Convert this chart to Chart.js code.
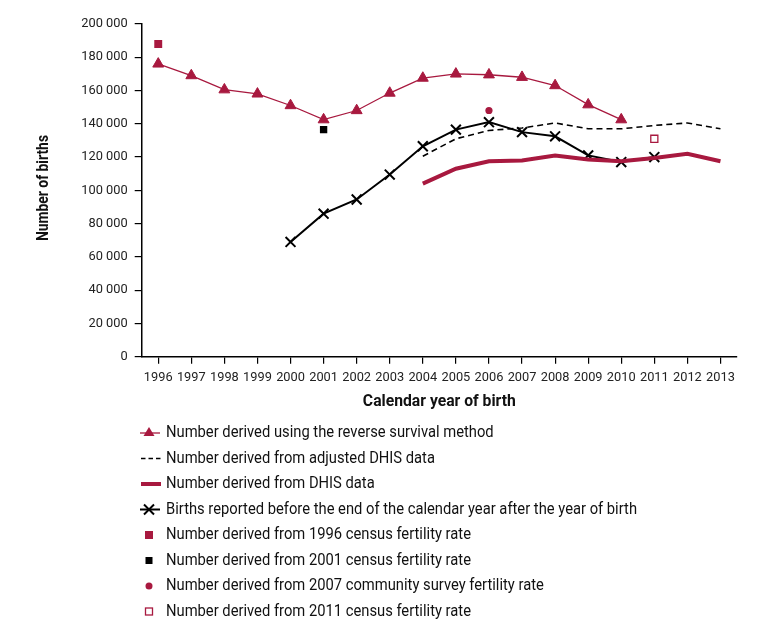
<!DOCTYPE html>
<html>
<head>
<meta charset="utf-8">
<script src="https://cdn.jsdelivr.net/npm/chart.js@4/dist/chart.umd.min.js"></script>
<style>
  html, body { margin: 0; padding: 0; background: #ffffff; }
  #wrap { width: 771px; height: 632px; position: relative; }
</style>
</head>
<body>
<div id="wrap"><canvas id="c" width="771" height="632"></canvas></div>
<script>
// ---------- data ----------
const years = ['1996','1997','1998','1999','2000','2001','2002','2003','2004','2005','2006','2007','2008','2009','2010','2011','2012','2013'];
const reverseSurvival = [176000,169000,160500,158000,151000,142500,148000,158500,167500,170000,169500,168000,163000,151500,142500,null,null,null];
const adjustedDHIS    = [null,null,null,null,null,null,null,null,120500,131000,136000,137500,140500,137000,137000,139000,140500,137000];
const dhisData        = [null,null,null,null,null,null,null,null,104000,113000,117500,118000,121000,118500,117500,119500,122000,117500];
const birthsReported  = [null,null,null,null,69000,86000,94500,109500,126500,136500,141000,135000,132500,121000,117000,120000,null,null];
const census1996      = [188000,null,null,null,null,null,null,null,null,null,null,null,null,null,null,null,null,null];
const census2001      = [null,null,null,null,null,136500,null,null,null,null,null,null,null,null,null,null,null,null];
const survey2007      = [null,null,null,null,null,null,null,null,null,null,148000,null,null,null,null,null,null,null];
const census2011      = [null,null,null,null,null,null,null,null,null,null,null,null,null,null,null,131000,null,null];
const yTickValues     = [0,20000,40000,60000,80000,100000,120000,140000,160000,180000,200000];
const yTickLabels     = ['0','20 000','40 000','60 000','80 000','100 000','120 000','140 000','160 000','180 000','200 000'];
const xTitle = 'Calendar year of birth';
const yTitle = 'Number of births';
const legendLabels = [
  'Number derived using the reverse survival method',
  'Number derived from adjusted DHIS data',
  'Number derived from DHIS data',
  'Births reported before the end of the calendar year after the year of birth',
  'Number derived from 1996 census fertility rate',
  'Number derived from 2001 census fertility rate',
  'Number derived from 2007 community survey fertility rate',
  'Number derived from 2011 census fertility rate'
];

// ---------- style ----------
const CRIMSON = '#a8193f';
const FONT = 'Roboto, "Liberation Sans", sans-serif';

// width-scale factor so that `text` at `size` spans `target` px
function squeeze(ctx, text, weight, size, target) {
  ctx.font = weight + ' ' + size + 'px ' + FONT;
  return Math.min(1, target / ctx.measureText(text).width);
}

function drawText(ctx, text, x, y, sx, align) {
  ctx.save();
  ctx.translate(x, y);
  ctx.scale(sx, 1);
  ctx.textAlign = align;
  ctx.fillText(text, 0, 0);
  ctx.restore();
}

const legendPlugin = {
  id: 'customTitlesLegend',
  afterDraw(chart) {
    const ctx = chart.ctx;
    const area = chart.chartArea;
    ctx.save();
    ctx.fillStyle = '#111';
    ctx.textBaseline = 'middle';

    // x title
    const sxx = squeeze(ctx, xTitle, 'bold', 16.5, 153);
    drawText(ctx, xTitle, (area.left + area.right) / 2, 402, sxx, 'center');

    // y title (rotated)
    const sxy = squeeze(ctx, yTitle, 'bold', 17, 106);
    ctx.save();
    ctx.translate(44, 188);
    ctx.rotate(-Math.PI / 2);
    drawText(ctx, yTitle, 0, 0, sxy, 'center');
    ctx.restore();

    // legend
    const x0 = 140, x1 = 160, xm = 149, tx = 166;
    const y0 = 433, dy = 25.5;
    const sxl = squeeze(ctx, legendLabels[3], 'normal', 16, 471);
    ctx.textBaseline = 'middle';
    legendLabels.forEach((lab, i) => {
      const y = y0 + i * dy;
      ctx.save();
      if (i === 0) {
        ctx.strokeStyle = CRIMSON; ctx.lineWidth = 1.3;
        ctx.beginPath(); ctx.moveTo(x0, y); ctx.lineTo(x1, y); ctx.stroke();
        ctx.fillStyle = CRIMSON;
        ctx.beginPath();
        ctx.moveTo(xm, y - 6); ctx.lineTo(xm + 5.5, y + 3); ctx.lineTo(xm - 5.5, y + 3); ctx.closePath(); ctx.fill();
      } else if (i === 1) {
        ctx.strokeStyle = '#000'; ctx.lineWidth = 1.6; ctx.setLineDash([4.5, 3]);
        ctx.beginPath(); ctx.moveTo(x0 + 1, y); ctx.lineTo(x1 + 1, y); ctx.stroke();
      } else if (i === 2) {
        ctx.strokeStyle = CRIMSON; ctx.lineWidth = 4;
        ctx.beginPath(); ctx.moveTo(x0 + 1, y); ctx.lineTo(x1 + 1, y); ctx.stroke();
      } else if (i === 3) {
        ctx.strokeStyle = '#000'; ctx.lineWidth = 2;
        ctx.beginPath(); ctx.moveTo(x0, y); ctx.lineTo(x1, y); ctx.stroke();
        ctx.beginPath();
        ctx.moveTo(xm - 5, y - 5); ctx.lineTo(xm + 5, y + 5);
        ctx.moveTo(xm + 5, y - 5); ctx.lineTo(xm - 5, y + 5);
        ctx.stroke();
      } else if (i === 4) {
        ctx.fillStyle = CRIMSON; ctx.fillRect(xm - 4, y - 4, 8, 8);
      } else if (i === 5) {
        ctx.fillStyle = '#000'; ctx.fillRect(xm - 3.5, y - 3.5, 7, 7);
      } else if (i === 6) {
        ctx.fillStyle = CRIMSON; ctx.beginPath(); ctx.arc(xm, y, 3.5, 0, Math.PI * 2); ctx.fill();
      } else if (i === 7) {
        ctx.strokeStyle = CRIMSON; ctx.lineWidth = 1.3; ctx.strokeRect(xm - 3.5, y - 3.5, 7, 7);
      }
      ctx.restore();
      ctx.fillStyle = '#111';
      ctx.font = 'normal 16px ' + FONT;
      drawText(ctx, lab, tx, y, sxl, 'left');
    });
    ctx.restore();
  }
};

const ctx = document.getElementById('c').getContext('2d');
new Chart(ctx, {
  type: 'line',
  data: {
    labels: years,
    datasets: [
      { label: legendLabels[2], data: dhisData, borderColor: CRIMSON, borderWidth: 4, pointRadius: 0, tension: 0, fill: false },
      { label: legendLabels[1], data: adjustedDHIS, borderColor: '#000', borderWidth: 1.6, borderDash: [6, 4], pointRadius: 0, tension: 0, fill: false },
      { label: legendLabels[0], data: reverseSurvival, borderColor: CRIMSON, borderWidth: 1.3, pointStyle: 'triangle', pointRadius: 6.3, pointBackgroundColor: CRIMSON, pointBorderColor: CRIMSON, pointBorderWidth: 1, tension: 0, fill: false },
      { label: legendLabels[3], data: birthsReported, borderColor: '#000', borderWidth: 2, pointStyle: 'crossRot', pointRadius: 7, pointBorderColor: '#000', pointBorderWidth: 2, tension: 0, fill: false },
      { label: legendLabels[4], data: census1996, showLine: false, pointStyle: 'rect', pointRadius: 5.6, pointBackgroundColor: CRIMSON, pointBorderColor: CRIMSON, pointBorderWidth: 0 },
      { label: legendLabels[5], data: census2001, showLine: false, pointStyle: 'rect', pointRadius: 5.2, pointBackgroundColor: '#000', pointBorderColor: '#000', pointBorderWidth: 0 },
      { label: legendLabels[6], data: survey2007, showLine: false, pointStyle: 'circle', pointRadius: 3.6, pointBackgroundColor: CRIMSON, pointBorderColor: CRIMSON, pointBorderWidth: 0 },
      { label: legendLabels[7], data: census2011, showLine: false, pointStyle: 'rect', pointRadius: 5, pointBackgroundColor: '#fff', pointBorderColor: CRIMSON, pointBorderWidth: 1.3 }
    ]
  },
  options: {
    responsive: false,
    animation: false,
    devicePixelRatio: 1,
    spanGaps: false,
    layout: { padding: { left: 10, top: 24, right: 34, bottom: 10 } },
    plugins: { legend: { display: false }, tooltip: { enabled: false }, title: { display: false } },
    scales: {
      x: {
        type: 'category',
        offset: true,
        grid: { display: true, drawOnChartArea: false, drawTicks: true, tickLength: 7, color: '#000', lineWidth: 1.2, offset: false },
        border: { display: true, color: '#000', width: 1.5 },
        ticks: { color: '#222', font: { family: FONT, size: 12.8 }, padding: 6, maxRotation: 0, autoSkip: false },
        afterFit(scale) { scale.height = 632 - 10 - 356.7; }
      },
      y: {
        min: 0, max: 200000,
        afterBuildTicks(scale) { scale.ticks = yTickValues.map(v => ({ value: v })); },
        grid: { display: true, drawOnChartArea: false, drawTicks: true, tickLength: 7, color: '#000', lineWidth: 1.2 },
        border: { display: true, color: '#000', width: 1.5 },
        ticks: {
          color: '#222', font: { family: FONT, size: 12.8 }, padding: 7,
          callback(value) { const i = yTickValues.indexOf(value); return i >= 0 ? yTickLabels[i] : ''; }
        },
        afterFit(scale) { scale.width = 141.7 - 10; }
      }
    }
  },
  plugins: [legendPlugin]
});
</script>
</body>
</html>
